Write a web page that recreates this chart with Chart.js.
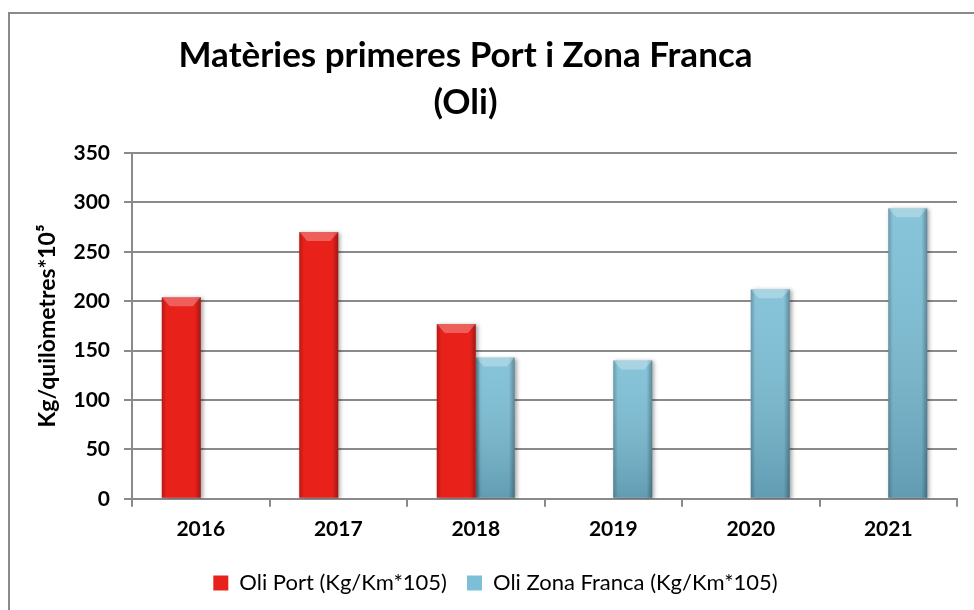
<!DOCTYPE html>
<html>
<head>
<meta charset="utf-8">
<script src="https://cdn.jsdelivr.net/npm/chart.js@4"></script>
<style>
  html, body { margin: 0; padding: 0; background: #fff; }
  #wrap { position: relative; width: 974px; height: 610px; }
</style>
</head>
<body>
<div id="wrap"><canvas id="chart" width="974" height="610"></canvas></div>
<script>
// data
const years = ['2016', '2017', '2018', '2019', '2020', '2021'];
const oliPort = [204, 270, 177, null, null, null];
const oliZonaFranca = [null, null, 143, 140, 212, 294];
const yTicks = [0, 50, 100, 150, 200, 250, 300, 350];

const FONT = 'Lato, "Open Sans", sans-serif';

// frame round the whole chart and a little shading on the bars
const decor = {
    id: 'decor',
    afterLayout(chart) {
        // the original centres title and legend a bit off the canvas middle
        if (chart.titleBlock) chart.titleBlock.left = -26;
        if (chart.legend) chart.legend.left = 34;
    },
    beforeDraw(chart) {
        const ctx = chart.ctx;
        ctx.save();
        ctx.strokeStyle = '#8a8a8a';
        ctx.lineWidth = 2;
        ctx.strokeRect(9, 13, 1000, 700);
        ctx.restore();
    },
    beforeDatasetDraw(chart) {
        const ctx = chart.ctx;
        ctx.save();
        ctx.shadowColor = 'rgba(0,0,0,0.35)';
        ctx.shadowBlur = 4;
        ctx.shadowOffsetX = 2;
        ctx.shadowOffsetY = 1;
    },
    afterDatasetDraw(chart, args) {
        const ctx = chart.ctx;
        ctx.restore();
        const blue = args.index === 1;
        args.meta.data.forEach(bar => {
            if (bar.skip || isNaN(bar.y)) return;
            const l = bar.x - bar.width / 2, r = bar.x + bar.width / 2;
            const t = bar.y, b = bar.base;
            ctx.save();
            if (blue) {
                const gv = ctx.createLinearGradient(0, t, 0, b);
                gv.addColorStop(0, 'rgba(255,255,255,0.08)');
                gv.addColorStop(1, 'rgba(0,30,50,0.22)');
                ctx.fillStyle = gv;
                ctx.fillRect(l, t, r - l, b - t);
            }
            const gh = ctx.createLinearGradient(l, 0, r, 0);
            gh.addColorStop(0, 'rgba(0,0,0,0.22)');
            gh.addColorStop(0.12, 'rgba(0,0,0,0)');
            gh.addColorStop(0.85, 'rgba(0,0,0,0)');
            gh.addColorStop(1, 'rgba(0,0,0,0.3)');
            ctx.fillStyle = gh;
            ctx.fillRect(l, t, r - l, b - t);
            // bevel on top
            const bh = Math.min(9, (b - t) / 2);
            ctx.fillStyle = 'rgba(255,255,255,0.28)';
            ctx.beginPath();
            ctx.moveTo(l, t);
            ctx.lineTo(r, t);
            ctx.lineTo(r - 8, t + bh);
            ctx.lineTo(l + 8, t + bh);
            ctx.closePath();
            ctx.fill();
            ctx.restore();
        });
    }
};

new Chart(document.getElementById('chart'), {
    type: 'bar',
    data: {
        labels: years,
        datasets: [
            {
                label: 'Oli Port (Kg/Km*105)',
                data: oliPort,
                backgroundColor: '#e8211b',
                borderWidth: 0
            },
            {
                label: 'Oli Zona Franca (Kg/Km*105)',
                data: oliZonaFranca,
                backgroundColor: '#7cbfd6',
                borderWidth: 0
            }
        ]
    },
    options: {
        responsive: false,
        animation: false,
        devicePixelRatio: 1,
        categoryPercentage: 0.567,
        barPercentage: 1,
        layout: { padding: { left: 8, right: 17, top: 0, bottom: 6 } },
        plugins: {
            title: {
                display: true,
                text: ['Matèries primeres Port i Zona Franca', '(Oli)'],
                color: '#000',
                font: { family: FONT, size: 35, weight: 'bold', lineHeight: 1.343 },
                padding: { top: 32, bottom: 27 }
            },
            legend: {
                position: 'bottom',
                labels: {
                    color: '#000',
                    font: { family: FONT, size: 22 },
                    boxWidth: 15,
                    boxHeight: 15,
                    padding: 20
                }
            },
            tooltip: { enabled: false }
        },
        scales: {
            x: {
                grid: {
                    offset: true,
                    drawOnChartArea: false,
                    drawTicks: true,
                    tickLength: 8,
                    color: '#8a8a8a',
                    lineWidth: 2
                },
                border: { color: '#8a8a8a', width: 2 },
                ticks: {
                    color: '#000',
                    font: { family: FONT, size: 21, weight: 'bold' },
                    padding: 10
                }
            },
            y: {
                min: 0,
                max: 350,
                afterBuildTicks(scale) {
                    scale.ticks = yTicks.map(v => ({ value: v }));
                },
                afterFit(scale) { scale.width = 124; },
                grid: {
                    color: '#8a8a8a',
                    lineWidth: 2,
                    tickLength: 8
                },
                border: { color: '#8a8a8a', width: 2 },
                ticks: {
                    color: '#000',
                    font: { family: FONT, size: 21, weight: 'bold' },
                    padding: 14
                },
                title: {
                    display: true,
                    text: 'Kg/quilòmetres*10\u2075',
                    color: '#000',
                    font: { family: FONT, size: 23, weight: 'bold' },
                    padding: { top: 26, bottom: 0 }
                }
            }
        }
    },
    plugins: [decor]
});
</script>
</body>
</html>
